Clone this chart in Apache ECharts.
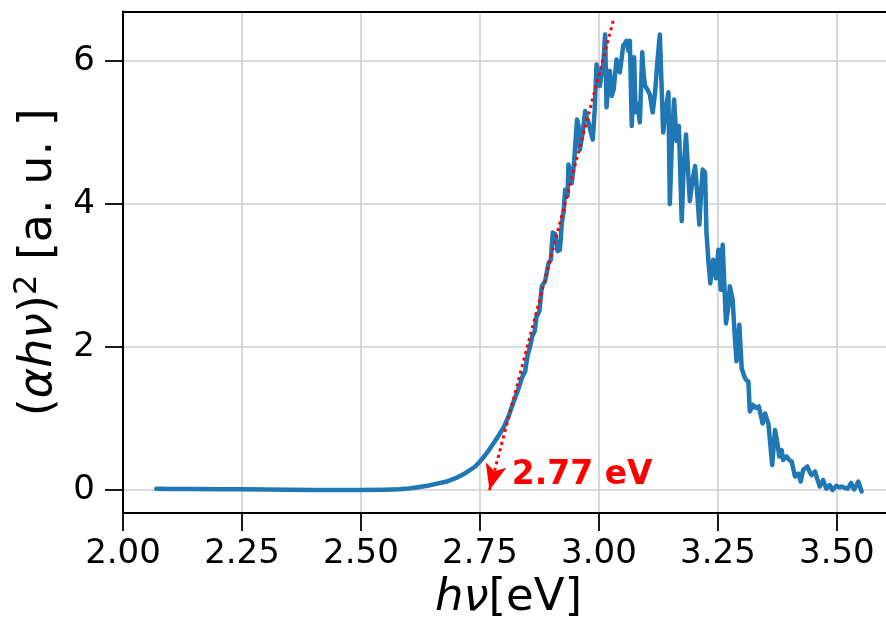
<!DOCTYPE html>
<html>
<head>
<meta charset="utf-8">
<script src="https://cdn.jsdelivr.net/npm/echarts@6/dist/echarts.min.js"></script>
<style>
  html, body { margin: 0; padding: 0; background: #fff; }
  #chart { width: 886px; height: 619px; }
</style>
</head>
<body>
<div id="chart"></div>
<script>
// Photon energy (eV) and Tauc quantity (αhν)² in arbitrary units
const photonEnergy = [
  2.07, 2.10, 2.15, 2.20, 2.25, 2.30, 2.35, 2.40, 2.45, 2.50, 2.55, 2.58, 2.60, 2.62, 2.64, 2.66, 2.68, 2.70,
  2.72, 2.74, 2.75, 2.76, 2.77, 2.78, 2.79, 2.80, 2.81, 2.82, 2.83, 2.84, 2.845, 2.85, 2.855, 2.86, 2.865,
  2.869, 2.875, 2.880, 2.887, 2.894, 2.899, 2.903, 2.908, 2.913, 2.918, 2.922, 2.926, 2.929, 2.934, 2.936,
  2.940, 2.943, 2.948, 2.954, 2.957, 2.960, 2.966, 2.971, 2.975, 2.978, 2.983, 2.987, 2.991, 2.995, 3.000,
  3.002, 3.006, 3.009, 3.013, 3.016, 3.020, 3.023, 3.027, 3.031, 3.037, 3.041, 3.044, 3.048, 3.051, 3.055,
  3.058, 3.062, 3.065, 3.069, 3.074, 3.077, 3.081, 3.086, 3.091, 3.094, 3.097, 3.102, 3.107, 3.113, 3.118,
  3.123, 3.128, 3.132, 3.135, 3.140, 3.146, 3.149, 3.154, 3.158, 3.163, 3.168, 3.174, 3.178, 3.183, 3.187,
  3.191, 3.196, 3.202, 3.207, 3.211, 3.215, 3.218, 3.223, 3.226, 3.230, 3.234, 3.237, 3.240, 3.246, 3.251,
  3.256, 3.260, 3.264, 3.267, 3.272, 3.275, 3.281, 3.285, 3.289, 3.295, 3.300, 3.305, 3.309, 3.314, 3.317,
  3.324, 3.330, 3.336, 3.340, 3.344, 3.349, 3.356, 3.360, 3.364, 3.370, 3.375, 3.379, 3.384, 3.387, 3.394,
  3.400, 3.405, 3.412, 3.419, 3.424, 3.429, 3.438, 3.443, 3.447, 3.454, 3.459, 3.464, 3.471, 3.478, 3.485,
  3.491, 3.499, 3.505, 3.510, 3.517, 3.523, 3.530, 3.536, 3.541, 3.545, 3.552
];
const taucSignal = [
  0.018, 0.017, 0.015, 0.013, 0.011, 0.008, 0.005, 0.002, 0.000, 0.000, 0.005, 0.012, 0.022, 0.04, 0.06, 0.09, 0.12, 0.17,
  0.24, 0.33, 0.40, 0.48, 0.57, 0.67, 0.77, 0.88, 1.03, 1.22, 1.40, 1.60, 1.66, 1.88, 2.00, 2.15, 2.22,
  2.43, 2.50, 2.85, 2.92, 3.17, 3.22, 3.60, 3.58, 3.34, 3.36, 3.73, 3.90, 4.20, 4.11, 4.55,
  4.40, 4.29, 4.60, 5.18, 5.10, 4.76, 5.00, 5.30, 5.20, 5.14, 5.00, 4.90, 5.30, 5.95, 5.75,
  5.65, 5.85, 5.93, 6.37, 5.35, 5.70, 5.86, 5.51, 5.60, 6.02, 5.90, 5.84, 6.05, 6.21, 6.25,
  6.28, 6.14, 6.28, 5.09, 6.05, 5.28, 5.40, 5.14, 6.12, 5.80, 5.65, 5.60, 5.53, 5.28, 5.56,
  6.00, 6.37, 6.37, 5.00, 5.30, 5.56, 4.00, 5.00, 5.46, 4.88, 5.09, 3.76, 4.50, 4.97, 4.50,
  4.04, 4.30, 4.53, 4.10, 3.71, 4.20, 4.48, 4.44, 3.60, 3.20, 2.89, 3.10, 3.22, 2.96, 3.36,
  2.80, 3.43, 2.80, 2.33, 2.57, 2.85, 2.66, 2.20, 1.80, 2.31, 1.70, 1.60, 1.54, 1.52, 1.10,
  1.19, 1.15, 1.17, 1.05, 0.93, 1.07, 0.93, 0.65, 0.35, 0.84, 0.65, 0.47, 0.56, 0.42, 0.47,
  0.42, 0.40, 0.19, 0.23, 0.12, 0.28, 0.33, 0.25, 0.21, 0.26, 0.15, 0.05, 0.14, 0.02, 0.07,
  0.00, 0.06, 0.04, 0.05, 0.03, 0.02, 0.10, 0.01, 0.06, 0.12, -0.02
];

// Linear-fit extrapolation: upper end of the fitted line and its x-intercept (band gap)
const bandGap = 2.77;
const fitTop = [3.03, 6.56];

// Tick positions
const xTicks = [2.00, 2.25, 2.50, 2.75, 3.00, 3.25, 3.50];
const yTicks = [0, 2, 4, 6];

const FONT = 'DejaVu Sans';
const seriesData = photonEnergy.map((x, i) => [x, taucSignal[i]]);

const chart = echarts.init(document.getElementById('chart'), null, { renderer: 'canvas' });

chart.setOption({
  animation: false,
  backgroundColor: '#ffffff',
  grid: { left: 123, top: 11.5, bottom: 106, right: -8, containLabel: false, outerBoundsMode: 'none' },
  xAxis: [
    {
      type: 'value',
      min: 2.0,
      max: 3.62,
      interval: 0.25,
      name: '{i|hν}{r|[eV]}',
      nameLocation: 'middle',
      nameGap: 55,
      nameTextStyle: {
        rich: {
          i: { fontFamily: FONT, fontSize: 45, fontStyle: 'italic', color: '#000' },
          r: { fontFamily: FONT, fontSize: 45, color: '#000' }
        }
      },
      axisLine: { show: true, onZero: false, lineStyle: { color: '#000', width: 2 } },
      axisTick: { show: true, length: 18, customValues: xTicks, lineStyle: { color: '#000', width: 1.8 } },
      axisLabel: {
        show: true,
        customValues: xTicks,
        margin: 24,
        fontFamily: FONT,
        fontSize: 34,
        color: '#000',
        formatter: v => v.toFixed(2)
      },
      splitLine: { show: true, lineStyle: { color: '#cfcfcf', width: 1.6 } }
    },
    {
      type: 'value',
      position: 'top',
      min: 2.0,
      max: 3.62,
      axisLine: { show: true, onZero: false, lineStyle: { color: '#000', width: 2 } },
      axisTick: { show: false },
      axisLabel: { show: false },
      splitLine: { show: false }
    }
  ],
  yAxis: {
    type: 'value',
    min: -0.32,
    max: 6.69,
    splitNumber: 3,
    name: '{p|(}{i|αhν}{p|)}{s|2}{p| [a. u. ]}',
    nameLocation: 'middle',
    nameRotate: 90,
    nameGap: 54,
    nameTextStyle: {
      rich: {
        p: { fontFamily: FONT, fontSize: 46, color: '#000', lineHeight: 56 },
        i: { fontFamily: FONT, fontSize: 46, fontStyle: 'italic', color: '#000', lineHeight: 56 },
        s: { fontFamily: FONT, fontSize: 32, color: '#000', verticalAlign: 'top', lineHeight: 32 }
      }
    },
    axisLine: { show: true, onZero: false, lineStyle: { color: '#000', width: 2 } },
    axisTick: { show: true, length: 18, customValues: yTicks, lineStyle: { color: '#000', width: 1.8 } },
    axisLabel: {
      show: true,
      customValues: yTicks,
      margin: 28,
      fontFamily: FONT,
      fontSize: 34,
      color: '#000'
    },
    splitLine: { show: true, lineStyle: { color: '#cfcfcf', width: 1.6 } }
  },
  series: [
    {
      type: 'line',
      xAxisIndex: 0,
      data: seriesData,
      showSymbol: false,
      symbol: 'none',
      lineStyle: { color: '#1f77b4', width: 4.5, join: 'round', cap: 'round' },
      z: 3,
      markLine: {
        silent: true,
        animation: false,
        lineStyle: { color: '#ff0000', width: 3, type: [3, 3.7], cap: 'butt' },
        label: { show: false },
        data: [
          [
            { coord: fitTop, symbol: 'none' },
            { coord: [bandGap, 0], symbol: 'arrow', symbolSize: [16, 26] }
          ]
        ],
        itemStyle: { color: '#ff0000' }
      },
      markPoint: {
        silent: true,
        animation: false,
        symbol: 'circle',
        symbolSize: 0,
        data: [
          {
            coord: [2.817, 0.21],
            label: {
              show: true,
              position: 'right',
              distance: 0,
              formatter: () => bandGap.toFixed(2) + ' eV',
              fontFamily: FONT,
              fontWeight: 'bold',
              fontSize: 33,
              color: '#ff0000'
            }
          }
        ]
      }
    }
  ]
});
</script>
</body>
</html>
